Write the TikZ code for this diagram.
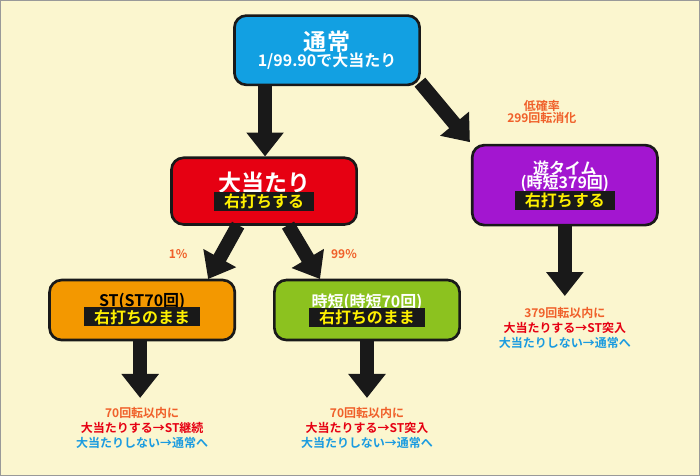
\documentclass[tikz,border=0pt]{standalone}
\usepackage{fontspec}
\setmainfont{Noto Sans CJK JP}[BoldFont={Noto Sans CJK JP Bold}]
\usetikzlibrary{arrows.meta,positioning}
\definecolor{bgyellow}{HTML}{FBF6CF}
\definecolor{tsujoblue}{HTML}{12A0E2}
\definecolor{hitred}{HTML}{E60012}
\definecolor{yupurple}{HTML}{A316D0}
\definecolor{storange}{HTML}{F39800}
\definecolor{jitangreen}{HTML}{8CC21F}
\definecolor{txtorange}{HTML}{F0602A}
\definecolor{txtblue}{HTML}{1A9BE0}
\definecolor{lblyellow}{HTML}{FFF000}
\tikzset{
  box/.style={draw=black!90, line width=2pt, rounded corners=9pt, minimum width=139pt, align=center, text=white, font=\bfseries\large},
  arr/.style={line width=10.5pt, draw=black!90, -{Triangle[length=18pt,width=27pt]}},
  note/.style={font=\bfseries\small, align=center, text=txtorange}
}
\newcommand{\lblbox}[1]{{\setlength\fboxsep{1.5pt}\colorbox{black!90}{\hspace{6pt}\color{lblyellow}#1\hspace{6pt}}}}
\newcommand{\res}[2]{{\color{txtorange}#1}\\{\color{hitred}大当たりする→#2}\\{\color{txtblue}大当たりしない→通常へ}}
\begin{document}
\begin{tikzpicture}[x=0.75pt,y=-0.75pt]
  \path[fill=bgyellow, draw=black!40] (0,0) rectangle (700,475);

  \node[box, fill=tsujoblue, minimum height=52pt] (tsujo) at (327,50)
    {{\LARGE 通常}\\[-2pt]1/99.90で大当たり};
  \node[box, fill=hitred, minimum height=50pt] (hit) at (264,191)
    {{\LARGE 大当たり}\\[-2pt]\lblbox{右打ちする}};
  \node[box, fill=yupurple, minimum height=60pt] (yu) at (565,185)
    {遊タイム\\[-3pt](時短379回)\\[-2pt]\lblbox{右打ちする}};
  \node[box, fill=storange, minimum height=45pt, text=black] (st) at (142,310)
    {ST(ST70回)\\[-3pt]\lblbox{右打ちのまま}};
  \node[box, fill=jitangreen, minimum height=45pt] (jitan) at (367,310)
    {時短(時短70回)\\[-3pt]\lblbox{右打ちのまま}};

  % labels
  \node[note] (teikaku) at (542,112) {低確率\\[-2pt]299回転消化};
  \node[note] (p1) at (178,254) {1\%};
  \node[note] (p99) at (344,254) {99\%};
  \node[note] (stres) at (142,428) {\res{70回転以内に}{ST継続}};
  \node[note] (jitanres) at (367,428) {\res{70回転以内に}{ST突入}};
  \node[note] (yures) at (565,328) {\res{379回転以内に}{ST突入}};

  % arrows
  \draw[arr] (265,86) -- (hit.north -| 265,0);
  \draw[arr] (420,82) -- (470,142);
  \draw[arr] (238,225) -- (208,279);
  \draw[arr] (288,225) -- (320,279);
  \draw[arr] (yu.south) -- (565,296);
  \draw[arr] (st.south -| 140,0) -- (140,398);
  \draw[arr] (jitan.south) -- (367,398);
\end{tikzpicture}
\end{document}
